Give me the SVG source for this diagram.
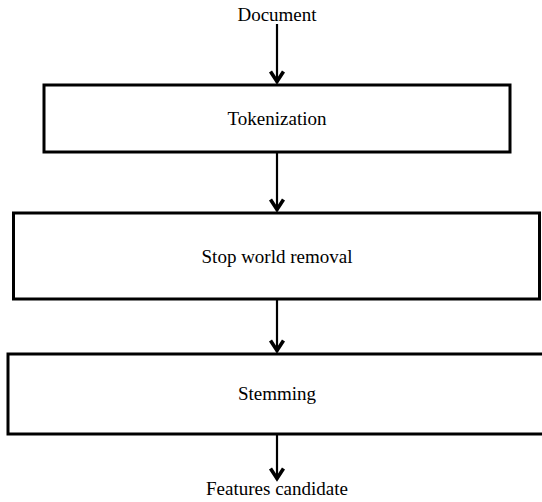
<svg xmlns="http://www.w3.org/2000/svg" width="542" height="502" viewBox="0 0 542 502">
<style>
.box{fill:#fff;stroke:#000;stroke-width:3}
.lbl{font-family:"Liberation Serif","Times New Roman",serif;font-size:19px;fill:#000;text-anchor:middle}
.conn{stroke:#000;stroke-width:2.2;fill:none}
</style>
<defs>
<marker id="arr" markerUnits="userSpaceOnUse" viewBox="-14 -9 16 18" refX="0" refY="0" markerWidth="16" markerHeight="18" orient="auto">
<path d="M-11.5,-6.5 L-1.5,0 L-11.5,6.5" fill="none" stroke="#000" stroke-width="3.6" stroke-linejoin="miter"/>
</marker>
</defs>
<rect width="542" height="502" fill="#fff"/>
<g id="connectors">
<line class="conn" x1="277" y1="24" x2="277" y2="83" marker-end="url(#arr)"/>
<line class="conn" x1="277" y1="153" x2="277" y2="211" marker-end="url(#arr)"/>
<line class="conn" x1="277" y1="300" x2="277" y2="352" marker-end="url(#arr)"/>
<line class="conn" x1="277" y1="435" x2="277" y2="480" marker-end="url(#arr)"/>
</g>
<g id="document"><text class="lbl" x="277" y="21">Document</text></g>
<g id="tokenization"><rect class="box" x="44" y="85" width="466" height="67"/><text class="lbl" x="277" y="125">Tokenization</text></g>
<g id="stopword"><rect class="box" x="13.5" y="213" width="526" height="86"/><text class="lbl" x="277" y="263">Stop world removal</text></g>
<g id="stemming"><rect class="box" x="8" y="354" width="540" height="80"/><text class="lbl" x="277" y="400">Stemming</text></g>
<g id="features"><text class="lbl" x="277" y="495">Features candidate</text></g>
</svg>
